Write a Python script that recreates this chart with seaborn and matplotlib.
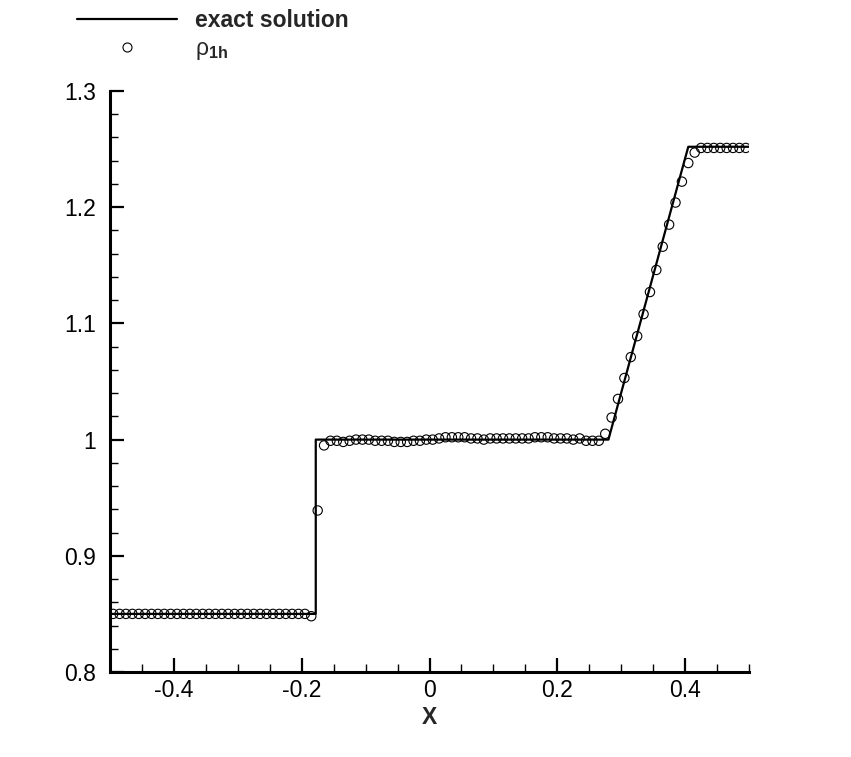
import numpy as np
import pandas as pd
import matplotlib
matplotlib.use("Agg")
import matplotlib.pyplot as plt
from matplotlib.ticker import MultipleLocator, FormatStrFormatter
from matplotlib.lines import Line2D
import seaborn as sns

# exact solution (shock at x~-0.178, rarefaction fan 0.28..0.405)
exact_x = [-0.5, -0.178, -0.178, 0.28, 0.337, 0.395, 0.405, 0.5]
exact_rho = [0.85, 0.85, 1.0, 1.0, 1.115, 1.232, 1.252, 1.252]

# numerical solution, 100 cell centres
cell_x = np.linspace(-0.495, 0.495, 100)
rho_left = [0.85] * 31
rho_shock = [0.848, 0.939, 0.995]
rho_middle = [0.999, 0.999, 0.998, 0.999, 1.000, 1.000, 1.000, 0.999, 0.999, 0.999,
              0.998, 0.998, 0.998, 0.999, 0.999, 1.000, 1.000, 1.001, 1.002, 1.002,
              1.002, 1.002, 1.001, 1.001, 1.000, 1.001, 1.001, 1.001, 1.001, 1.001,
              1.001, 1.001, 1.002, 1.002, 1.002, 1.001, 1.001, 1.001, 1.000, 1.001,
              0.999, 0.999, 0.999]
rho_fan = [1.005, 1.019, 1.035, 1.053, 1.071, 1.089, 1.108, 1.127, 1.146, 1.166,
           1.185, 1.204, 1.222, 1.238, 1.247]
rho_right = [1.251] * 8
rho_1h = rho_left + rho_shock + rho_middle + rho_fan + rho_right

sns.set_style("white")
plt.rcParams['font.family'] = ['Liberation Sans', 'DejaVu Sans']
plt.rcParams['mathtext.fontset'] = 'custom'
plt.rcParams['mathtext.rm'] = 'Liberation Sans'
plt.rcParams['mathtext.bf'] = 'Liberation Sans:bold'

exact_df = pd.DataFrame({'x': exact_x, 'rho': exact_rho})
num_df = pd.DataFrame({'x': cell_x, 'rho': rho_1h})

fig = plt.figure(figsize=(8.51, 7.57), dpi=100)
ax = fig.add_axes([110 / 851, 85 / 757, 639 / 851, 581 / 757])

sns.lineplot(data=exact_df, x='x', y='rho', ax=ax, color='black', linewidth=1.6,
             sort=False, estimator=None)
sns.scatterplot(data=num_df, x='x', y='rho', ax=ax, marker='o', s=45,
                facecolor='none', edgecolor='black', linewidth=0.8, zorder=3)

ax.set_xlim(-0.5, 0.5)
ax.set_ylim(0.8, 1.3)
ax.xaxis.set_major_locator(MultipleLocator(0.2))
ax.xaxis.set_minor_locator(MultipleLocator(0.05))
ax.yaxis.set_major_locator(MultipleLocator(0.1))
ax.yaxis.set_minor_locator(MultipleLocator(0.02))
ax.xaxis.set_major_formatter(FormatStrFormatter('%g'))
ax.yaxis.set_major_formatter(FormatStrFormatter('%g'))
ax.tick_params(which='major', direction='in', length=10, width=1.6, labelsize=16.5,
               color='black', labelcolor='black')
ax.tick_params(axis='x', which='major', pad=5)
ax.tick_params(axis='y', which='major', pad=10)
ax.tick_params(which='minor', direction='in', length=6, width=1.0, color='black')
ax.tick_params(bottom=True, left=True, which='both')

for side in ['top', 'right']:
    ax.spines[side].set_visible(False)
for side in ['left', 'bottom']:
    ax.spines[side].set_linewidth(2.2)
    ax.spines[side].set_color('black')

ax.set_xlabel('X', fontsize=16.5, fontweight='bold', labelpad=3)
ax.set_ylabel('')

handles = [Line2D([], [], color='black', linewidth=1.6),
           Line2D([], [], color='black', marker='o', markerfacecolor='none',
                  markersize=6.5, markeredgewidth=0.8, linestyle='none')]
labels = ['exact solution', r'ρ$_{\mathbf{1h}}$']
leg = fig.legend(handles, labels, loc='upper left', bbox_to_anchor=(77 / 851, 1 - 9 / 757),
                 frameon=False, fontsize=16.5, handlelength=4.37, handletextpad=0.79,
                 labelspacing=0.2, borderpad=0, borderaxespad=0)
leg.get_texts()[0].set_fontweight('bold')

fig.savefig('out.png', dpi=100)
